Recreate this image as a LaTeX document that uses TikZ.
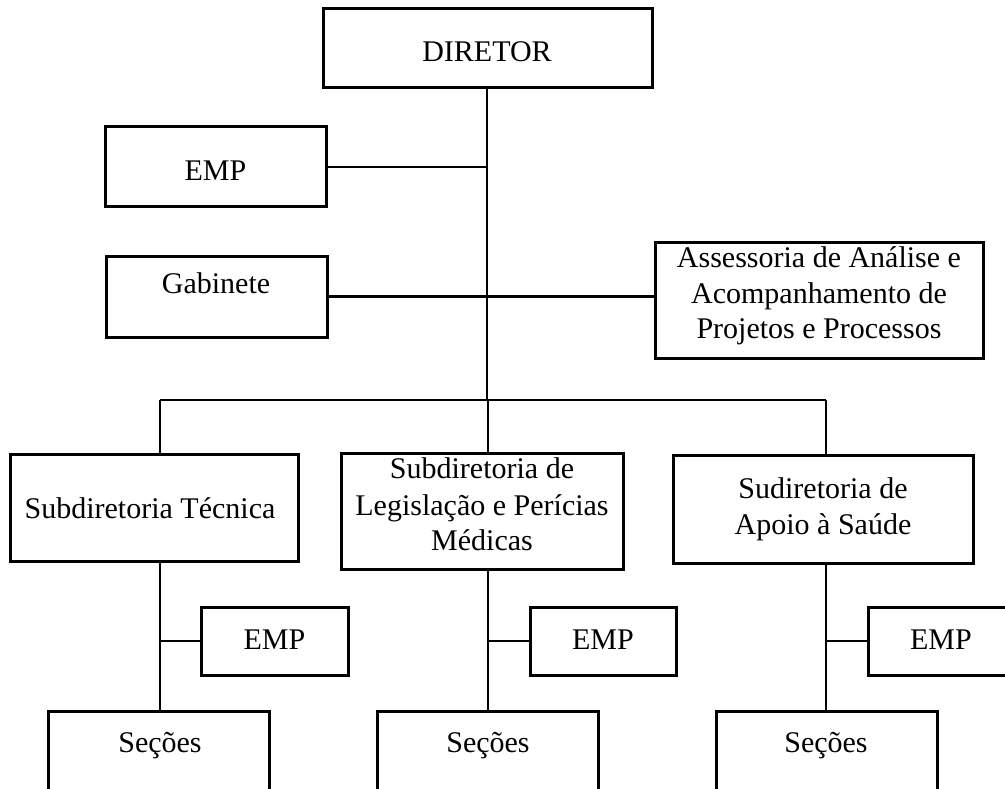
\documentclass[tikz,border=0pt]{standalone}
\usepackage{fontspec}
\setmainfont{Liberation Serif}
\begin{document}
\begin{tikzpicture}[x=1pt,y=-1pt,
  box/.style={draw, line width=3pt, rectangle, inner sep=0pt},
  conn/.style={draw, line width=2.2pt},
  lbl/.style={font=\fontsize{30}{36}\selectfont, inner sep=0pt, anchor=base}]
\useasboundingbox (0,0) rectangle (1005,789);
% boxes (center, size)
\node[box, minimum width=329pt, minimum height=79pt] (dir) at (487.5,48.5) {};
\node[box, minimum width=221pt, minimum height=80pt] (emp1) at (215.5,167) {};
\node[box, minimum width=221pt, minimum height=81pt] (gab) at (216.5,296.5) {};
\node[box, minimum width=328pt, minimum height=115pt] (ass) at (819,300.5) {};
\node[box, minimum width=288pt, minimum height=107pt] (st) at (154,507.5) {};
\node[box, minimum width=282pt, minimum height=116pt] (sl) at (482,511) {};
\node[box, minimum width=300pt, minimum height=108pt] (sa) at (823,509) {};
\node[box, minimum width=147pt, minimum height=68pt] (ea) at (274.5,641) {};
\node[box, minimum width=146pt, minimum height=68pt] (eb) at (603,641) {};
\node[box, minimum width=146pt, minimum height=68pt] (ec) at (941,641) {};
\node[box, minimum width=221pt, minimum height=89pt] (sca) at (158.5,755.5) {};
\node[box, minimum width=221pt, minimum height=89pt] (scb) at (487.5,755.5) {};
\node[box, minimum width=221pt, minimum height=89pt] (scc) at (826.5,755.5) {};
% texts
\node[lbl] (tdir) at (487,62) {DIRETOR};
\node[lbl] (temp1) at (215.5,181) {EMP};
\node[lbl] (tgab) at (216,293) {Gabinete};
\node[lbl] (tass1) at (819,267) {Assessoria de Análise e};
\node[lbl] (tass2) at (819,303) {Acompanhamento de};
\node[lbl] (tass3) at (819,338) {Projetos e Processos};
\node[lbl] (tst) at (150,518) {Subdiretoria Técnica};
\node[lbl] (tsl1) at (482,478) {Subdiretoria de};
\node[lbl] (tsl2) at (482,515) {Legislação e Perícias};
\node[lbl] (tsl3) at (482,550) {Médicas};
\node[lbl] (tsa1) at (823,498) {Sudiretoria de};
\node[lbl] (tsa2) at (823,534) {Apoio à Saúde};
\node[lbl] (tea) at (274.5,649) {EMP};
\node[lbl] (teb) at (603,649) {EMP};
\node[lbl] (tec) at (941,649) {EMP};
\node[lbl] (tsca) at (160,752) {Seções};
\node[lbl] (tscb) at (488,752) {Seções};
\node[lbl] (tscc) at (826,752) {Seções};
% junction coordinates
\coordinate (j0) at (487,400);
\coordinate (j1) at (160,400);
\coordinate (j2) at (488,400);
\coordinate (j3) at (826,400);
% connectors
\draw[conn] (dir.south -| j0) -- (j0);
\draw[conn] (emp1.east) -- (emp1.east -| j0);
\draw[conn] (gab.east) -- (gab.east -| ass.west);
\draw[conn] (j1) -- (j3);
\draw[conn] (j1) -- (j1 |- st.north);
\draw[conn] (j2) -- (j2 |- sl.north);
\draw[conn] (j3) -- (j3 |- sa.north);
\draw[conn] (j1 |- st.south) -- (j1 |- sca.north);
\draw[conn] (j2 |- sl.south) -- (j2 |- scb.north);
\draw[conn] (j3 |- sa.south) -- (j3 |- scc.north);
\draw[conn] (j1 |- ea.west) -- (ea.west);
\draw[conn] (j2 |- eb.west) -- (eb.west);
\draw[conn] (j3 |- ec.west) -- (ec.west);
\end{tikzpicture}
\end{document}
